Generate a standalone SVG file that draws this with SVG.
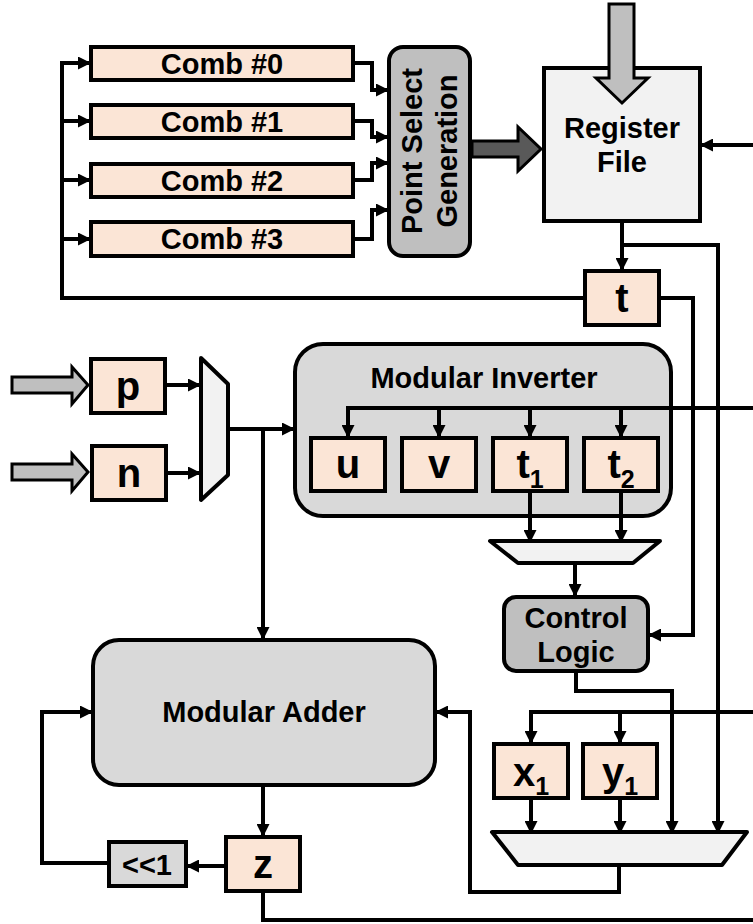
<svg xmlns="http://www.w3.org/2000/svg" width="753" height="924" viewBox="0 0 753 924">
<defs>
<style>
text{font-family:"Liberation Sans",Arial,sans-serif;font-weight:bold;fill:#000;text-anchor:middle}
.lbl{font-size:29px}
.big{font-size:40px}
.sub{font-size:25px}
.reg{fill:#fbe5d6;stroke:#000;stroke-width:4}
.lg{fill:#d9d9d9;stroke:#000;stroke-width:4}
.mg{fill:#bfbfbf;stroke:#000;stroke-width:4}
.wh{fill:#f2f2f2;stroke:#000;stroke-width:4;stroke-linejoin:round}
.blk{fill:#bfbfbf;stroke:#000;stroke-width:3}
.dk{fill:#595959;stroke:#000;stroke-width:3}
.w{fill:none;stroke:#000;stroke-width:4}
.a{marker-end:url(#ah)}
</style>
<marker id="ah" markerUnits="userSpaceOnUse" markerWidth="13" markerHeight="13" refX="11" refY="6.5" orient="auto">
<path d="M0,0 L13,6.5 L0,13 z" fill="#000"/>
</marker>
</defs>
<rect width="753" height="924" fill="#fff"/>

<g id="comb0"><rect class="reg" x="91" y="47" width="262" height="33"/><text class="lbl" x="222" y="74">Comb #0</text></g>
<g id="comb1"><rect class="reg" x="91" y="105" width="262" height="33"/><text class="lbl" x="222" y="132">Comb #1</text></g>
<g id="comb2"><rect class="reg" x="91" y="164" width="262" height="33"/><text class="lbl" x="222" y="191">Comb #2</text></g>
<g id="comb3"><rect class="reg" x="91" y="222" width="262" height="34"/><text class="lbl" x="222" y="249">Comb #3</text></g>

<g id="psg"><rect class="mg" x="389" y="47" width="81" height="209" rx="14"/>
<text class="lbl" transform="translate(422,151) rotate(-90)">Point Select</text>
<text class="lbl" transform="translate(457,151) rotate(-90)">Generation</text></g>

<g id="psg-arrow"><polygon class="dk" points="472,141 518,141 518,127 541,149 518,171 518,157 472,157"/></g>

<g id="regfile"><rect class="wh" x="544" y="68" width="156" height="153" style="stroke-linejoin:miter"/>
<text class="lbl" x="622" y="138">Register</text><text class="lbl" x="622" y="172">File</text></g>
<g id="rf-in"><polygon class="blk" points="609,4 634,4 634,78 648,78 622,103 596,78 609,78"/></g>

<g id="t"><rect class="reg" x="585" y="271" width="74" height="54"/><text class="big" x="622" y="312">t</text></g>

<g id="p-in"><polygon class="blk" points="12,377 72,377 72,367 88,385 72,404 72,393 12,393"/></g>
<g id="n-in"><polygon class="blk" points="12,464 72,464 72,454 88,472 72,491 72,480 12,480"/></g>
<g id="p"><rect class="reg" x="91" y="359" width="74" height="54"/><text class="big" x="128" y="400">p</text></g>
<g id="n"><rect class="reg" x="92" y="446" width="74" height="54"/><text class="big" x="129" y="487">n</text></g>
<g id="mux1"><polygon class="wh" points="201,358 228,384 228,475 201,500"/></g>

<g id="modinv"><rect class="lg" x="295" y="344" width="376" height="172" rx="28"/>
<text class="lbl" x="484" y="388">Modular Inverter</text></g>
<g id="u"><rect class="reg" x="311" y="438" width="74" height="53"/><text class="big" x="348" y="478">u</text></g>
<g id="v"><rect class="reg" x="402" y="438" width="74" height="53"/><text class="big" x="439" y="478">v</text></g>
<g id="t1"><rect class="reg" x="493" y="438" width="74" height="53"/><text class="big" x="530" y="478">t<tspan class="sub" dy="10">1</tspan></text></g>
<g id="t2"><rect class="reg" x="584" y="438" width="74" height="53"/><text class="big" x="621" y="478">t<tspan class="sub" dy="10">2</tspan></text></g>
<g id="mux2"><polygon class="wh" points="490,541 660,541 633,563 518,563"/></g>

<g id="ctrl"><rect class="mg" x="504" y="597" width="144" height="74" rx="12"/>
<text class="lbl" x="576" y="628">Control</text><text class="lbl" x="576" y="662">Logic</text></g>

<g id="modadd"><rect class="lg" x="93" y="640" width="342" height="145" rx="26"/>
<text class="lbl" x="264" y="722">Modular Adder</text></g>

<g id="x1"><rect class="reg" x="494" y="744" width="74" height="54"/><text class="big" x="531" y="786">x<tspan class="sub" dy="9">1</tspan></text></g>
<g id="y1"><rect class="reg" x="583" y="744" width="74" height="54"/><text class="big" x="620" y="786">y<tspan class="sub" dy="9">1</tspan></text></g>
<g id="mux3"><polygon class="wh" points="492,832 747,832 722,865 518,865"/></g>

<g id="z"><rect class="reg" x="226" y="837" width="74" height="54"/><text class="big" x="263" y="878">z</text></g>
<g id="shl"><rect class="lg" x="109" y="842" width="77" height="44"/><text class="lbl" x="147" y="875">&lt;&lt;1</text></g>

<g id="connectors" class="w">
<path class="a" d="M583,298 H62 V63 H89"/>
<path class="a" d="M62,121 H89"/>
<path class="a" d="M62,180 H89"/>
<path class="a" d="M62,239 H89"/>
<path class="a" d="M353,63 H372 V90 H387"/>
<path class="a" d="M353,121 H372 V137 H387"/>
<path class="a" d="M353,180 H372 V163 H387"/>
<path class="a" d="M353,239 H372 V210 H387"/>
<path class="a" d="M753,145 H702"/>
<path class="a" d="M622,221 V269"/>
<path class="a" d="M622,245 H718 V832"/>
<path class="a" d="M659,298 H693 V635 H650"/>
<path class="a" d="M165,385 H199"/>
<path class="a" d="M166,473 H199"/>
<path class="a" d="M228,429 H293"/>
<path class="a" d="M263,429 V638"/>
<path class="a" d="M753,408 H348 V436"/>
<path class="a" d="M439,408 V436"/>
<path class="a" d="M530,408 V436"/>
<path class="a" d="M621,408 V436"/>
<path class="a" d="M530,491 V541"/>
<path class="a" d="M621,491 V541"/>
<path class="a" d="M575,563 V595"/>
<path class="a" d="M576,671 V691 H672 V832"/>
<path class="a" d="M753,712 H531 V742"/>
<path class="a" d="M620,712 V742"/>
<path class="a" d="M531,798 V832"/>
<path class="a" d="M620,798 V832"/>
<path class="a" d="M619,865 V892 H470 V712 H437"/>
<path class="a" d="M263,785 V835"/>
<path class="a" d="M224,866 H188"/>
<path class="a" d="M107,863 H42 V712 H91"/>
<path d="M263,891 V920 H753"/>
</g>
</svg>
